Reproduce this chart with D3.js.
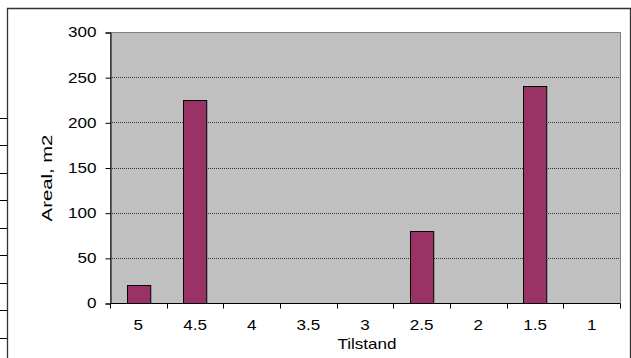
<!DOCTYPE html>
<html><head><meta charset="utf-8">
<script src="https://cdn.jsdelivr.net/npm/d3@7"></script>
<style>body{margin:0;background:#fff}svg{display:block}text{font-family:"Liberation Sans",Arial,sans-serif}</style>
</head><body><svg id="c" width="631" height="358"></svg>
<script>
const categories = ["5","4.5","4","3.5","3","2.5","2","1.5","1"];
const values = [20,225,0,0,0,80,0,240,0];
const yTicks = [0,50,100,150,200,250,300];
const yTitle = "Areal, m2";
const xTitle = "Tilstand";
const tableRowMarks = [118,145,173,200,228,255,283,310,338];

const svg = d3.select("#c");
const L=110,R=620,T=32,B=303;
const FS=14, SX=1.22;
// outer frame
svg.append("path").attr("d","M7.5,358 V8.5 H630.5 V358").attr("fill","none").attr("stroke","#333").attr("stroke-width",1.3);
svg.selectAll(".rm").data(tableRowMarks).enter().append("line")
  .attr("x1",0).attr("x2",7).attr("y1",d=>d+0.5).attr("y2",d=>d+0.5).attr("stroke","#000");

const x = d3.scaleBand().domain(categories).range([L,R]).paddingInner(0.59).paddingOuter(0.295);
const xb = d3.scaleBand().domain(categories).range([L,R]);
const y = d3.scaleLinear().domain([0,300]).range([B,T]);

svg.append("rect").attr("x",L+0.5).attr("y",T+0.5).attr("width",R-L).attr("height",B-T).attr("fill","#c0c0c0").attr("stroke","#808080");
svg.selectAll(".g").data(yTicks.filter(d=>d>0&&d<300)).enter().append("line")
  .attr("x1",L).attr("x2",R).attr("y1",d=>Math.round(y(d))+0.5).attr("y2",d=>Math.round(y(d))+0.5)
  .attr("stroke","#333").attr("stroke-dasharray","1,1");

const data = categories.map((c,i)=>({c, v: values[i]})).filter(d=>d.v>0);
svg.selectAll(".bar").data(data).enter().append("rect")
  .attr("x",d=>Math.round(x(d.c))+0.5)
  .attr("y",d=>Math.round(y(d.v))+0.5)
  .attr("width",x.bandwidth())
  .attr("height",d=>Math.round(B-y(d.v)))
  .attr("fill","#993366").attr("stroke","#000");

const ya = svg.append("g").attr("transform",`translate(${L+0.5},0.5)`)
  .call(d3.axisLeft(y).tickValues(yTicks).tickSize(5).tickPadding(9).tickFormat(d3.format("d")));
ya.select(".domain").attr("stroke","#000");
ya.selectAll("text").attr("x",0).attr("transform",`translate(-14,0) scale(${SX},1)`)
  .attr("font-size",FS).attr("fill","#000").attr("font-family","Liberation Sans, Arial, sans-serif");

const xa = svg.append("g").attr("transform",`translate(0,${B+0.5})`);
xa.append("line").attr("x1",L).attr("x2",R).attr("stroke","#000");
const bounds = categories.map(c=>xb(c)).concat([R]);
xa.selectAll(".t").data(bounds).enter().append("line")
  .attr("x1",d=>Math.round(d)+0.5).attr("x2",d=>Math.round(d)+0.5).attr("y1",0).attr("y2",5).attr("stroke","#000");
xa.selectAll(".l").data(categories).enter().append("text")
  .attr("transform",d=>`translate(${xb(d)+xb.bandwidth()/2},26.5) scale(${SX},1)`).attr("text-anchor","middle")
  .attr("font-size",FS).text(d=>d);

svg.append("text").attr("transform",`translate(${(L+R)/2+2},349) scale(${SX},1)`).attr("text-anchor","middle").attr("font-size",FS).text(xTitle);
svg.append("text").attr("transform","translate(52,178) rotate(-90) scale(1.45,1)").attr("text-anchor","middle").attr("font-size",FS).text(yTitle);
</script></body></html>
